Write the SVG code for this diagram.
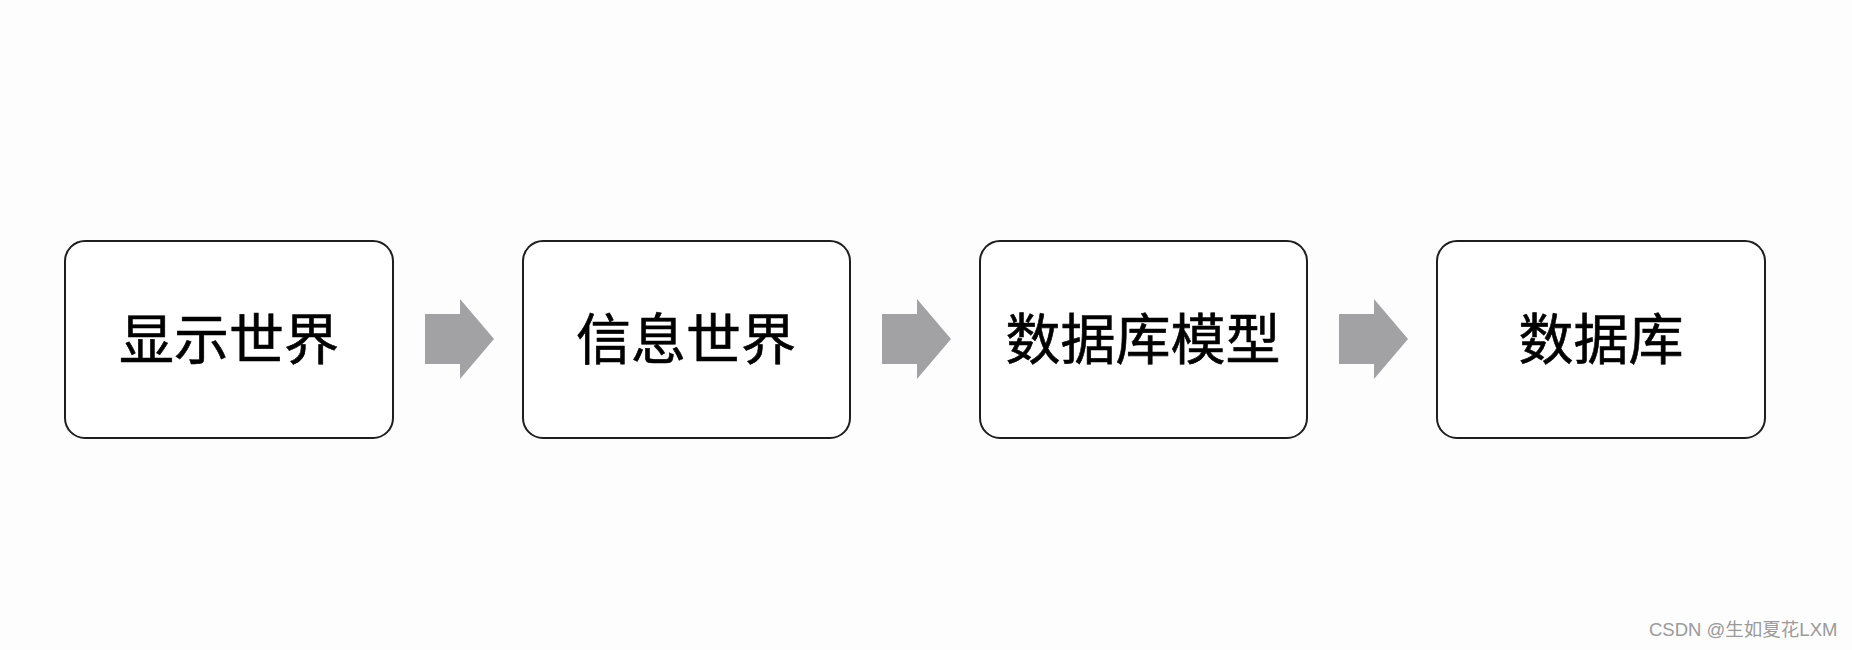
<svg xmlns="http://www.w3.org/2000/svg" width="1852" height="650" viewBox="0 0 1852 650">
<style>
.box{fill:#fff;stroke:#1e1e1e;stroke-width:2}
.lbl{font-family:"Noto Sans CJK SC","Noto Sans",sans-serif;font-size:55px;font-weight:400;fill:#000;stroke:#000;stroke-width:0.6;text-anchor:middle;dominant-baseline:central}
.arr{fill:#a2a1a4}
.wm{font-family:"Liberation Sans","Noto Sans CJK SC",sans-serif;font-size:18.5px;fill:#9a9a9a}
</style>
<defs>
<path id="arrow" class="arr" d="M0,-25 H35 V-40 L69,0 L35,40 V25 H0 Z"/>
</defs>
<rect width="1852" height="650" fill="#fdfdfd"/>
<g id="n1"><rect class="box" x="65" y="241" width="328" height="197" rx="20"/><text class="lbl" x="229" y="335">显示世界</text></g>
<g id="n2"><rect class="box" x="523" y="241" width="327" height="197" rx="20"/><text class="lbl" x="686" y="335">信息世界</text></g>
<g id="n3"><rect class="box" x="980" y="241" width="327" height="197" rx="20"/><text class="lbl" x="1143" y="335">数据库模型</text></g>
<g id="n4"><rect class="box" x="1437" y="241" width="328" height="197" rx="20"/><text class="lbl" x="1601" y="335">数据库</text></g>
<g id="connectors">
<use href="#arrow" x="425" y="339"/>
<use href="#arrow" x="882" y="339"/>
<use href="#arrow" x="1339" y="339"/>
</g>
<text class="wm" x="1649" y="636">CSDN @生如夏花LXM</text>
</svg>
